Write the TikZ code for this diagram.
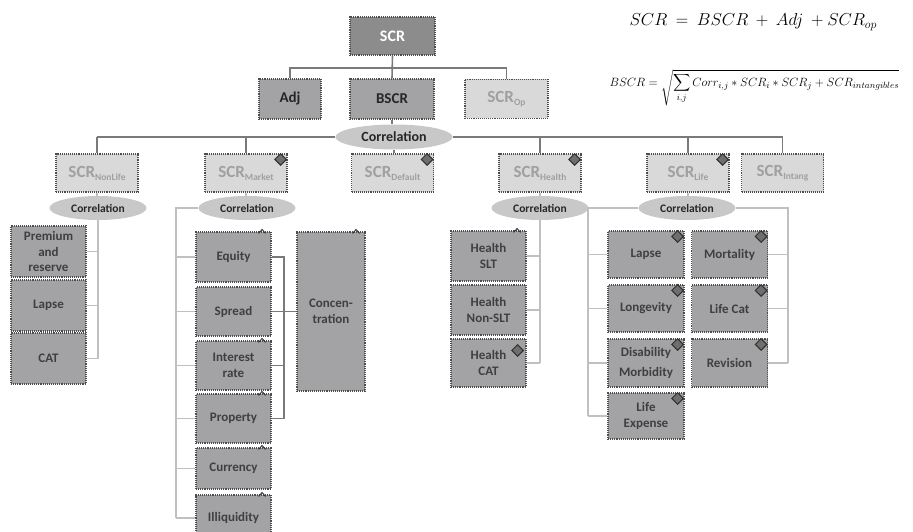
\documentclass[tikz,border=0pt]{standalone}
\usepackage{amsmath}
\usepackage{fontspec}
\setmainfont{Carlito}
\usetikzlibrary{shapes,positioning}
\definecolor{boxline}{HTML}{4D4D4D}
\definecolor{topfill}{HTML}{8C8C8C}
\definecolor{riskfill}{HTML}{A3A3A5}
\definecolor{risktext}{HTML}{3F3F3F}
\definecolor{modfill}{HTML}{D9D9D9}
\definecolor{modtext}{HTML}{A0A0A0}
\definecolor{corrfill}{HTML}{C8C8C8}
\definecolor{corrtext}{HTML}{262626}
\definecolor{flagfill}{HTML}{6E6E6E}
\definecolor{flagline}{HTML}{303030}
\definecolor{busgray}{HTML}{C0C0C0}
\definecolor{linkgray}{HTML}{7A7A7A}
\tikzset{basic/.style={draw=boxline,densely dotted,line width=1.1pt,align=center,inner sep=1pt}}
\tikzset{risk/.style={basic,fill=riskfill,text=risktext,minimum width=75pt,font=\bfseries\fontsize{13}{15.5}\selectfont}}
\tikzset{top/.style={basic,fill=riskfill,text=corrtext,minimum width=84pt,minimum height=40pt,font=\bfseries\fontsize{15}{17}\selectfont}}
\tikzset{module/.style={basic,fill=modfill,text=modtext,minimum width=82pt,minimum height=38pt,font=\bfseries\fontsize{17}{19}\selectfont}}
\tikzset{corr/.style={ellipse,fill=corrfill,text=corrtext,inner sep=0pt,minimum width=97pt,minimum height=24pt,font=\bfseries\fontsize{11.5}{13}\selectfont}}
\tikzset{flag/.style={diamond,draw=flagline,fill=flagfill,line width=1pt,inner sep=0pt,minimum size=12pt}}
\tikzset{caret/.style={draw=flagline,line width=0.9pt}}
\tikzset{bus/.style={draw=busgray,line width=1.3pt}}
\tikzset{link/.style={draw=linkgray,line width=1.6pt}}
\newcommand{\Sub}[2]{#1\raisebox{-3pt}{\fontsize{9.5}{10}\selectfont #2}}

\begin{document}
\begin{tikzpicture}[x=1pt, y=-1pt]
\clip (0,0) rectangle (913,532);
\useasboundingbox (0,0) rectangle (913,532);

% Top of the tree
\node [basic, fill=topfill, text=white, minimum width=85pt, minimum height=38pt, font=\bfseries\fontsize{16}{18}\selectfont] (scr) at (392.5,36) {SCR};
\node [top, minimum width=62pt] (adj) at (290,99) {Adj};
\node [top] (bscr) at (392,99) {BSCR};
\node [module, minimum width=83pt, minimum height=39pt] (op) at (506.5,99) {\Sub{SCR}{Op}};
\coordinate (topbus) at (392.5,68);
\draw [link] (scr.south) -- (bscr.north);
\draw [link] (adj.north) |- (topbus) -| (op.north);

\node [corr, minimum width=117pt, minimum height=25pt, font=\bfseries\fontsize{14}{16}\selectfont] (corr) at (394,137) {Correlation};
\draw [link] (bscr.south) -- (bscr.south |- corr.north);

\foreach \m/\l/\x in {nonlife/NonLife/97, market/Market/246, default/Default/392.5, health/Health/540, life/Life/688, intang/Intang/782.5}
\node [module] (mod-\m) at (\x,173) {\Sub{SCR}{\l}};

\draw [link] (corr.west) -- (corr.west -| mod-nonlife);
\draw [link] (corr.east) -- (corr.east -| mod-intang);
\draw [link] (corr.south) -- (corr.south |- mod-default.north);
\foreach \m in {nonlife,market,health,life,intang}
\draw [link] (mod-\m.north) -- (mod-\m.north |- corr);

\foreach \m/\x in {nonlife/98, market/247, health/540, life/687} {
\node [corr] (corr-\m) at (\x,208) {Correlation};
\draw [bus] (mod-\m.south) -- (mod-\m.south |- corr-\m.north);
}

% Non-life
\foreach \l/\y [count=\i] in {{Premium\\and\\reserve}/251.5, Lapse/305.5, CAT/358.5}
\node [risk, minimum height=51pt] (nl-\i) at (48.5,\y) {\l};
\draw [bus] (corr-nonlife.south) -- (corr-nonlife.south |- nl-3.east);
\foreach \i in {1,2,3}
\draw [bus] (nl-\i.east) -- (nl-\i.east -| corr-nonlife.south);

% Market
\foreach \l/\y/\h [count=\i] in {Equity/257/50, Spread/311.5/49, {Interest\\rate}/365.5/49, Property/418.5/49, Currency/468.5/41, Illiquidity/518/46}
\node [risk, minimum height=\h pt] (mk-\i) at (233.5,\y) {\l};
\node [risk, minimum width=68pt, minimum height=159pt] (conc) at (331,311.5) {Concen-\\tration};

\coordinate (mkbus) at (176,208);
\draw [bus] (corr-market.west) -- (mkbus) -- (mkbus |- mk-6.west);
\foreach \i in {1,...,6}
\draw [bus] (mk-\i.west) -- (mk-\i.west -| mkbus);

\coordinate (conbus) at (284,257);
\draw [link] (mk-1.east) -- (conbus) -- (conbus |- mk-4.east) -- (mk-4.east);
\draw [link] (mk-3.east) -- (mk-3.east -| conbus);
\draw [link] (mk-2.east) -- (conc.west);

% Health
\foreach \l/\y/\h [count=\i] in {{Health\\SLT}/256/50, {Health\\Non-SLT}/310/50, {Health\\CAT}/363/48}
\node [risk, minimum height=\h pt] (hl-\i) at (488.5,\y) {\l};
\draw [bus] (corr-health.south) -- (corr-health.south |- hl-3.east);
\foreach \i in {1,2,3}
\draw [bus] (hl-\i.east) -- (hl-\i.east -| corr-health.south);

% Life
\foreach \l/\y/\h [count=\i] in {Lapse/254.5/47, Longevity/308.5/47, {Disability\\[5pt]Morbidity}/363/48, {Life\\Expense}/416/46}
\node [risk, minimum width=76pt, minimum height=\h pt] (lf-\i) at (646,\y) {\l};
\foreach \l/\y/\h [count=\i] in {Mortality/254.5/47, Life Cat/308.5/47, Revision/363/48}
\node [risk, minimum width=76pt, minimum height=\h pt] (lr-\i) at (729.5,\y) {\l};

\coordinate (lfbus-l) at (588,208);
\coordinate (lfbus-r) at (788,208);
\draw [bus] (corr-life.west) -- (lfbus-l) -- (lfbus-l |- lf-4.west);
\draw [bus] (corr-life.east) -- (lfbus-r) -- (lfbus-r |- lr-3.east);
\foreach \i in {1,...,4}
\draw [bus] (lf-\i.west) -- (lf-\i.west -| lfbus-l);
\foreach \i in {1,2,3}
\draw [bus] (lr-\i.east) -- (lr-\i.east -| lfbus-r);

% Markers
\foreach \n in {mod-market,mod-default,mod-health,mod-life,lf-1,lf-2,lf-3,lf-4,lr-1,lr-2,lr-3}
\node [flag] (flag-\n) at ([shift={(-7,6)}]\n.north east) {};
\node [flag] (flag-hl-3) at ([shift={(-9,12)}]hl-3.north east) {};
\foreach \n in {mk-1,mk-3,mk-4,mk-5,mk-6,conc,hl-1}
\draw [caret] ([shift={(-13,2)}]\n.north east) -- ++(3.5,-4) -- ++(3.5,4);

% Formulas
\node [anchor=west, font=\fontsize{16.5}{18}\selectfont] (eq-scr) at (626,22) {$SCR\ =\ BSCR\ +\ Adj\ +SCR_{op}$};
\node [anchor=west, font=\fontsize{12.2}{14}\selectfont] (eq-bscr) at (606,88) {$BSCR=\sqrt{\displaystyle\sum_{i,j}Corr_{i,j}\ast SCR_i\ast SCR_j+SCR_{intangibles}}$};
\end{tikzpicture}
\end{document}
